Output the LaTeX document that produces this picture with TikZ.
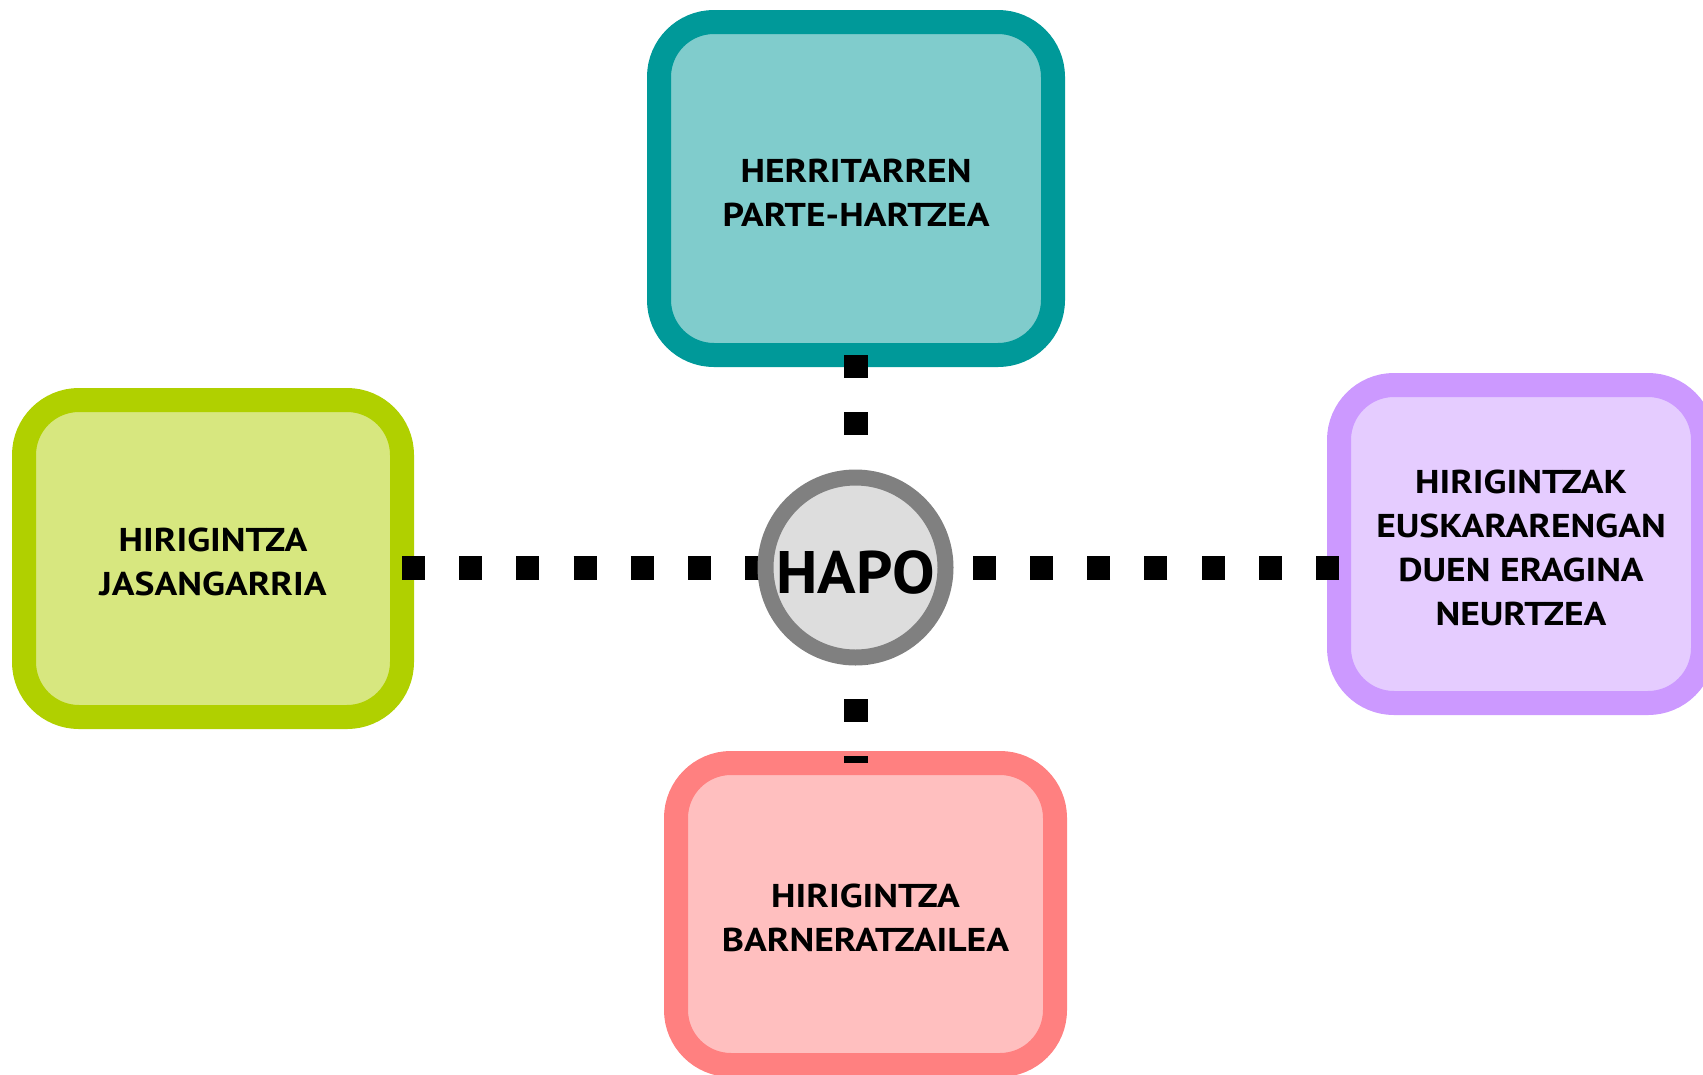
\documentclass[tikz,border=0pt]{standalone}
\usepackage{fontspec}
\setmainfont{PT Sans}[FakeStretch=1.14]
\newfontfamily\hapofont{PT Sans}[FakeStretch=1.06]
\pgfdeclarelayer{boxes}
\pgfdeclarelayer{front}
\pgfsetlayers{boxes,main,front}
\definecolor{tealB}{HTML}{009999}
\definecolor{tealF}{HTML}{80CCCC}
\definecolor{limeB}{HTML}{B0D000}
\definecolor{limeF}{HTML}{D7E77F}
\definecolor{lilacB}{HTML}{CC99FF}
\definecolor{lilacF}{HTML}{E5CCFF}
\definecolor{pinkB}{HTML}{FF8080}
\definecolor{pinkF}{HTML}{FFBFBF}
\definecolor{hapoB}{HTML}{808080}
\definecolor{hapoF}{HTML}{DDDDDD}
\newcommand\firstline{\rule{0pt}{31pt}}
\tikzset{
  topic/.style={draw, line width=24pt, rounded corners=55pt, outer sep=0pt,
    inner sep=0pt, align=center, font=\fontsize{33}{44}\selectfont\bfseries},
  link/.style={line width=24pt, dash pattern=on 23pt off 34.2pt, draw=black},
  hub/.style={circle, draw=hapoB, fill=hapoF, line width=16pt, minimum size=180pt,
    inner sep=0pt, outer sep=0pt, font=\hapofont\fontsize{60}{60}\selectfont\bfseries},
}
\begin{document}
\begin{tikzpicture}[x=1pt,y=-1pt]
\useasboundingbox (0,0) rectangle (1703,1074);
\begin{pgfonlayer}{boxes}
\node[topic, draw=tealB, fill=tealF, minimum width=394pt, minimum height=333pt]
  (top) at (856,188.5) {\firstline HERRITARREN\\PARTE-HARTZEA};
\node[topic, draw=limeB, fill=limeF, minimum width=378pt, minimum height=317pt]
  (left) at (213,558.5) {\firstline HIRIGINTZA\\JASANGARRIA};
\node[topic, draw=lilacB, fill=lilacF, minimum width=364pt, minimum height=318pt]
  (right) at (1521,544) {\firstline HIRIGINTZAK\\EUSKARARENGAN\\DUEN ERAGINA\\NEURTZEA};
\node[topic, draw=pinkB, fill=pinkF, minimum width=379pt, minimum height=302pt]
  (bot) at (865.5,914) {\firstline HIRIGINTZA\\BARNERATZAILEA};
\end{pgfonlayer}
\begin{pgfonlayer}{front}
\node[hub] (hapo) at (855.5,567.5) {\rule{0pt}{52pt}HAPO};
\end{pgfonlayer}
\draw[link] (left.east |- hapo.center) -- (hapo.center);
\draw[link] (right.west |- hapo.center) -- (hapo.center);
\draw[link] (top.south -| hapo.center) -- ([yshift=10pt]hapo.north);
\draw[link, dash phase=16pt] (bot.north -| hapo.center) -- (hapo.center);
\end{tikzpicture}
\end{document}
